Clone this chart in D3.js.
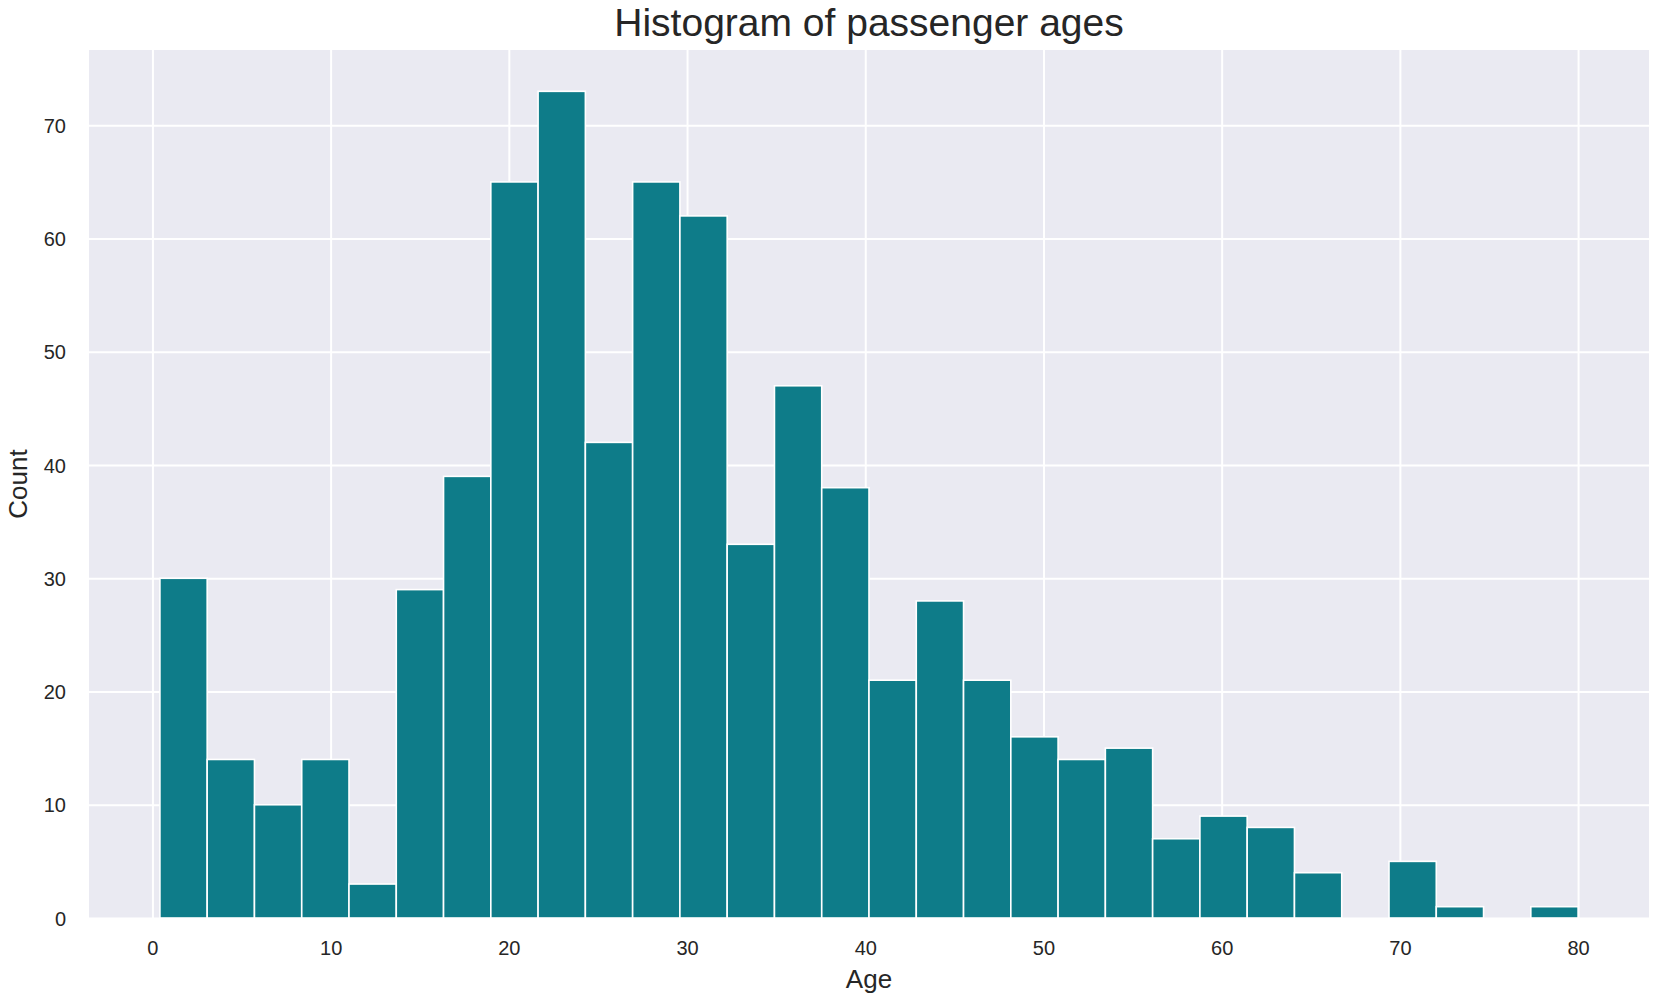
<!DOCTYPE html>
<html>
<head>
<meta charset="utf-8">
<script src="https://cdn.jsdelivr.net/npm/d3@7"></script>
<style>
  body { margin: 0; background: #fff; }
  text { font-family: "Liberation Sans", Arial, sans-serif; }
</style>
</head>
<body>
<div id="chart"></div>
<script>
// Data: 30 age bins between the youngest and oldest passenger
const ageMin = 0.42;
const ageMax = 80;
const binCounts = [30, 14, 10, 14, 3, 29, 39, 65, 73, 42,
                   65, 62, 33, 47, 38, 21, 28, 21, 16, 14,
                   15, 7, 9, 8, 4, 0, 5, 1, 0, 1];
const xTicks = [0, 10, 20, 30, 40, 50, 60, 70, 80];
const yTicks = [0, 10, 20, 30, 40, 50, 60, 70];

// Set up the dimensions
const W = 1668, H = 1002;
const margin = { top: 50, right: 19, bottom: 84, left: 89 };
const width = W - margin.left - margin.right;
const height = H - margin.top - margin.bottom;

const binWidth = (ageMax - ageMin) / binCounts.length;
const bins = binCounts.map((c, i) => ({
    x0: ageMin + i * binWidth,
    x1: ageMin + (i + 1) * binWidth,
    count: c
}));

// Create SVG
const svg = d3.select("#chart")
    .append("svg")
    .attr("width", W)
    .attr("height", H);

const g = svg.append("g")
    .attr("transform", `translate(${margin.left},${margin.top})`);

// Scales with matplotlib style 5% margins
const pad = (ageMax - ageMin) * 0.05;
const x = d3.scaleLinear()
    .domain([ageMin - pad, ageMax + pad])
    .range([0, width]);

const y = d3.scaleLinear()
    .domain([0, d3.max(binCounts) * 1.05])
    .range([height, 0]);

// Background
g.append("rect")
    .attr("width", width)
    .attr("height", height)
    .attr("fill", "#eaeaf2");

// Grid
const xAxis = g.append("g")
    .attr("transform", `translate(0,${height})`)
    .call(d3.axisBottom(x)
        .tickValues(xTicks)
        .tickSize(height)
        .tickSizeOuter(0)
        .tickPadding(0));
xAxis.select(".domain").remove();
xAxis.selectAll(".tick line")
    .attr("y2", -height)
    .attr("stroke", "#fff")
    .attr("stroke-width", 2);
xAxis.selectAll(".tick text")
    .attr("y", 37)
    .attr("dy", 0)
    .attr("fill", "#262626")
    .style("font-size", "20px");

const yAxis = g.append("g")
    .call(d3.axisLeft(y)
        .tickValues(yTicks)
        .tickSize(-width)
        .tickSizeOuter(0)
        .tickPadding(23));
yAxis.select(".domain").remove();
yAxis.selectAll(".tick line")
    .attr("stroke", "#fff")
    .attr("stroke-width", 2);
yAxis.selectAll(".tick text")
    .attr("dy", "0.36em")
    .attr("fill", "#262626")
    .style("font-size", "20px");

// Bars
g.selectAll(".bar")
    .data(bins.filter(d => d.count > 0))
    .enter()
    .append("rect")
    .attr("class", "bar")
    .attr("x", d => x(d.x0))
    .attr("width", d => x(d.x1) - x(d.x0))
    .attr("y", d => y(d.count))
    .attr("height", d => height - y(d.count))
    .attr("fill", "#0e7c89")
    .attr("stroke", "#fff")
    .attr("stroke-width", 1.6);

// Title and axis labels
svg.append("text")
    .attr("x", margin.left + width / 2)
    .attr("y", 36)
    .attr("text-anchor", "middle")
    .attr("fill", "#262626")
    .style("font-size", "39px")
    .text("Histogram of passenger ages");

svg.append("text")
    .attr("x", margin.left + width / 2)
    .attr("y", 988)
    .attr("text-anchor", "middle")
    .attr("fill", "#262626")
    .style("font-size", "26px")
    .text("Age");

svg.append("text")
    .attr("transform", `translate(27,${margin.top + height / 2}) rotate(-90)`)
    .attr("text-anchor", "middle")
    .attr("fill", "#262626")
    .style("font-size", "26px")
    .text("Count");
</script>
</body>
</html>
